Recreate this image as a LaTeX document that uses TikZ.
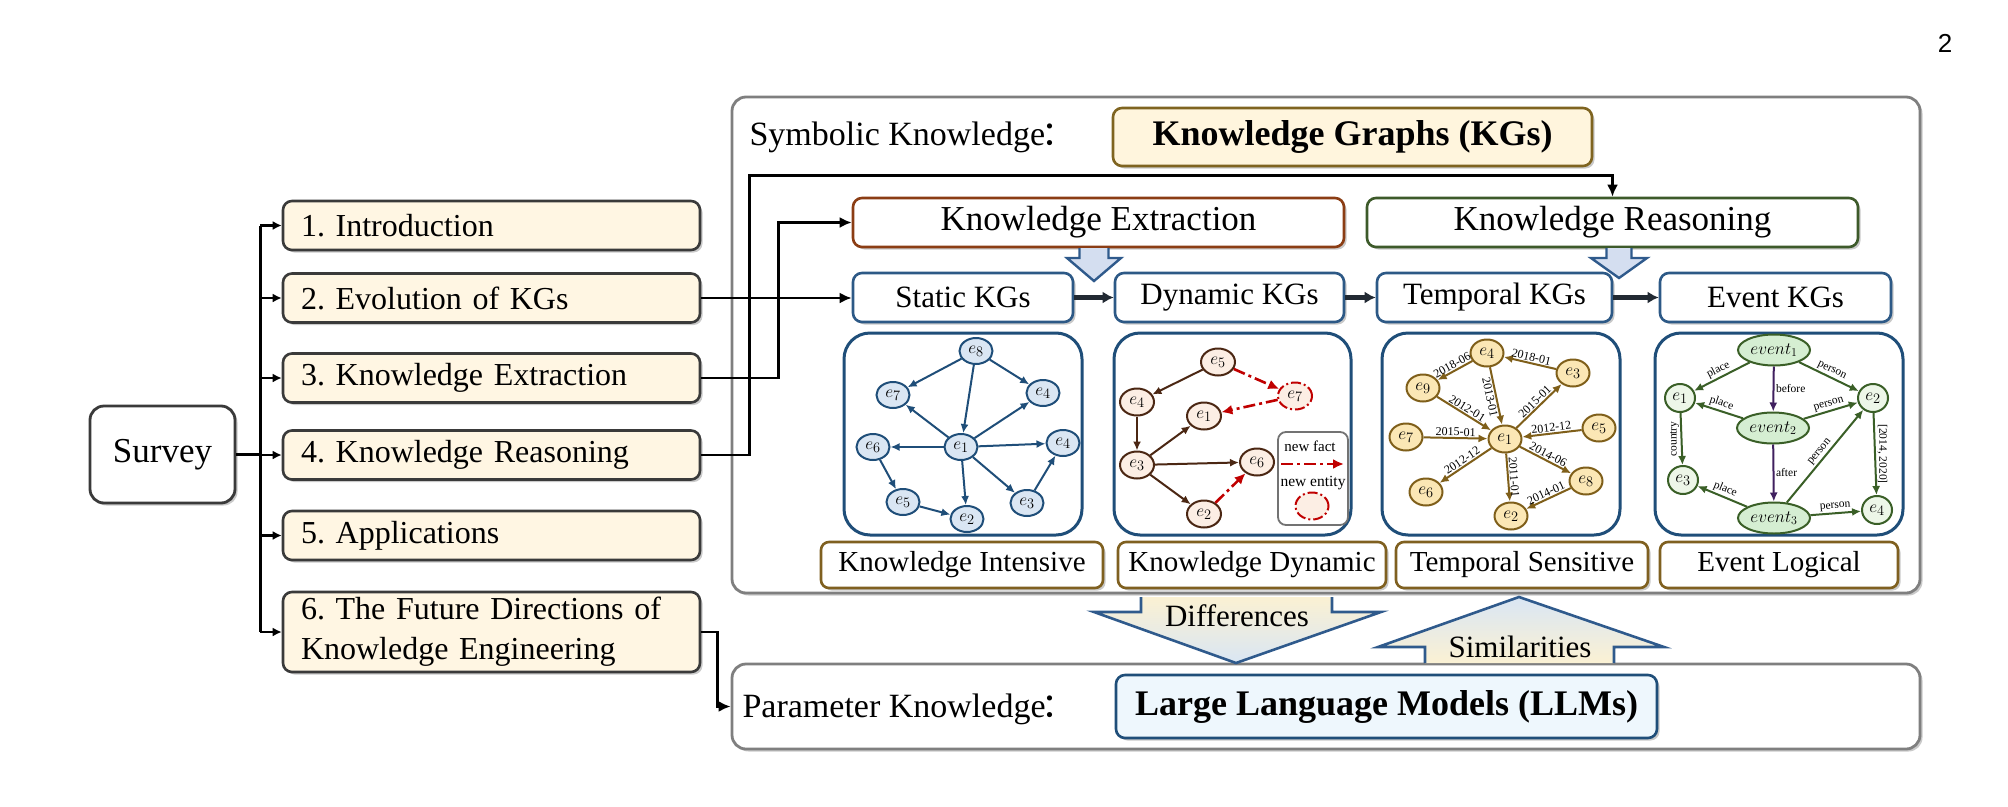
\documentclass[tikz,border=0pt]{standalone}
\usepackage{fontspec}
\setmainfont{Liberation Serif}
\setsansfont{Liberation Sans}
\newfontfamily\cjk{Noto Sans CJK SC}
\usetikzlibrary{arrows.meta}
\usetikzlibrary{shapes.geometric}
\usetikzlibrary{shadows}
\usepackage{xcolor}
\frenchspacing

\definecolor{seccream}{HTML}{FFF6E3}
\definecolor{secline}{HTML}{3A3A3A}
\definecolor{frameline}{HTML}{7F7F7F}
\definecolor{kgfill}{HTML}{FFF5DD}
\definecolor{kgline}{HTML}{7F6420}
\definecolor{keline}{HTML}{8B3D14}
\definecolor{krline}{HTML}{3D5A2A}
\definecolor{rowline}{HTML}{2D5986}
\definecolor{panline}{HTML}{1F4E79}
\definecolor{labline}{HTML}{7F6020}
\definecolor{llmfill}{HTML}{EEF7FD}
\definecolor{blockfill}{HTML}{D4DEF0}
\definecolor{blockline}{HTML}{2F5A8C}
\definecolor{gradcream}{HTML}{FBF1D3}
\definecolor{gradblue}{HTML}{D9E6F4}
\definecolor{rowdark}{HTML}{222A33}
\definecolor{sfill}{HTML}{DAE6F3}
\definecolor{sline}{HTML}{1F4E79}
\definecolor{dfill}{HTML}{FCEEE4}
\definecolor{dline}{HTML}{4B2713}
\definecolor{newred}{HTML}{C00000}
\definecolor{tfill}{HTML}{FBE7B5}
\definecolor{tline}{HTML}{7F5F1A}
\definecolor{efill}{HTML}{EDF6E8}
\definecolor{vfill}{HTML}{D5EED2}
\definecolor{eline}{HTML}{3A5F27}
\definecolor{purp}{HTML}{40205F}

\newcommand\fsz[2]{\fontsize{#1}{#2}\selectfont}
\newcommand\wcolon{\kern-.12em{\cjk ：}}

\tikzset{
  shd/.style={drop shadow={shadow xshift=2.5pt, shadow yshift=-2.5pt, opacity=.35, fill=black!60}},
  frame/.style={draw=frameline, line width=2.8pt, fill=white, rounded corners=14pt, shd},
  rootbox/.style={draw=secline, line width=2.8pt, fill=white, rounded corners=14pt,
    minimum width=145pt, minimum height=97pt, font=\fsz{35}{40}, shd},
  secbox/.style={draw=secline, fill=seccream, line width=2.6pt, rounded corners=9pt,
    text width=381pt, inner xsep=18pt, inner ysep=0pt, align=left,
    minimum height=49pt, font=\fsz{32}{40}, shd},
  kgbox/.style={draw=kgline, fill=kgfill, line width=2.6pt, rounded corners=9pt,
    minimum width=479pt, minimum height=58pt, font=\bfseries\fsz{36}{40}, shd},
  llmbox/.style={draw=panline, fill=llmfill, line width=2.6pt, rounded corners=9pt,
    minimum width=541pt, minimum height=63pt, font=\bfseries\fsz{36}{40}, shd},
  taskbox/.style={fill=white, line width=2.6pt, rounded corners=9pt,
    minimum width=491pt, minimum height=49pt, font=\fsz{35}{40}, shd},
  rowbox/.style={draw=rowline, fill=white, line width=2.6pt, rounded corners=9pt,
    minimum height=49pt, font=\fsz{31}{36}, shd},
  panel/.style={draw=panline, fill=white, line width=3pt, rounded corners=26pt,
    minimum height=202pt},
  labbox/.style={draw=labline, fill=white, line width=2.6pt, rounded corners=8pt,
    minimum height=46pt, font=\fsz{29}{34}, shd},
  conn/.style={line width=2.7pt, -{Latex[length=12pt,width=11pt]}},
  tconn/.style={line width=2.7pt, -{Latex[length=9pt,width=9pt]}},
  rowarr/.style={draw=rowdark, line width=4.5pt, -{Latex[length=11pt,width=12pt]}},
  blockarr/.style={draw=blockline, fill=blockfill, line width=2.4pt},
  bigarr/.style={draw=blockline, line width=2.6pt},
  gnode/.style={ellipse, inner sep=0pt, line width=2pt, font=\fsz{19}{19}},
  snode/.style={gnode, draw=sline, fill=sfill, minimum width=33pt, minimum height=26pt},
  dnode/.style={gnode, draw=dline, fill=dfill, minimum width=34pt, minimum height=27pt},
  newnode/.style={gnode, draw=newred, fill=dfill, minimum width=34pt, minimum height=27pt,
    dash pattern=on 10pt off 3pt on 2pt off 3pt},
  tnode/.style={gnode, draw=tline, fill=tfill, minimum width=33pt, minimum height=27pt},
  enode/.style={gnode, draw=eline, fill=efill, minimum width=30pt, minimum height=28pt},
  vnode/.style={gnode, draw=eline, fill=vfill, minimum width=72pt, minimum height=31pt, font=\fsz{17}{17}},
  sedge/.style={draw=sline, line width=2pt, -{Latex[length=9pt,width=8pt]}},
  dedge/.style={draw=dline, line width=2pt, -{Latex[length=9pt,width=8pt]}},
  newedge/.style={draw=newred, line width=2.6pt, -{Latex[length=11pt,width=10pt]},
    dash pattern=on 12pt off 4pt on 3pt off 4pt},
  tedge/.style={draw=tline, line width=2pt, -{Latex[length=9pt,width=8pt]}},
  eedge/.style={draw=eline, line width=2pt, -{Latex[length=9pt,width=8pt]}},
  pedge/.style={draw=purp, line width=2pt, -{Latex[length=9pt,width=8pt]}},
  tlab/.style={font=\fsz{12}{12}, inner sep=1pt, sloped},
  elab/.style={font=\fsz{11.5}{12}, inner sep=1.5pt},
}

\begin{document}
\begin{tikzpicture}[x=1pt,y=-1pt]
\useasboundingbox (0,0) rectangle (2008,806);

% frames
\node[frame, minimum width=1188pt, minimum height=496pt] (symb) at (1326,345) {};
\node[frame, minimum width=1188pt, minimum height=85pt] (para) at (1326,706.5) {};

% survey and sections
\node[rootbox] (survey) at (162.5,454.5) {Survey};
\node[secbox] (sec1) at (491.5,225.5) {1. Introduction};
\node[secbox] (sec2) at (491.5,298) {2. Evolution of KGs};
\node[secbox] (sec3) at (491.5,378) {3. Knowledge Extraction};
\node[secbox] (sec4) at (491.5,455) {4. Knowledge Reasoning};
\node[secbox] (sec5) at (491.5,535.5) {5. Applications};
\node[secbox, minimum height=80pt] (sec6) at (491.5,632) {6. The Future Directions of\\Knowledge Engineering};

\draw[line width=2.7pt] (survey.east) -- ++(24,0) coordinate (trunk);
\draw[line width=2.7pt] (trunk |- sec1.west) -- (trunk |- sec6.west);
\foreach \s in {sec1,sec2,sec3,sec4,sec5,sec6}
  \draw[tconn] (trunk |- \s.west) -- (\s.west);

% symbolic knowledge
\node[anchor=west, font=\fsz{34}{40}] (symbtxt) at (746,137) {Symbolic Knowledge\wcolon};
\node[kgbox] (kgs) at (1352.5,137) {Knowledge Graphs (KGs)};
\node[taskbox, draw=keline] (ke) at (1098.5,222.5) {Knowledge Extraction};
\node[taskbox, draw=krline] (kr) at (1612.5,222.5) {Knowledge Reasoning};

\node[rowbox, minimum width=220pt] (static) at (963,297.5) {Static KGs};
\node[rowbox, minimum width=229pt] (dynamic) at (1229.5,297.5) {Dynamic KGs};
\node[rowbox, minimum width=235pt] (temporal) at (1494.5,297.5) {Temporal KGs};
\node[rowbox, minimum width=231pt] (event) at (1775.5,297.5) {Event KGs};
\draw[rowarr] (static.east) -- (dynamic.west);
\draw[rowarr] (dynamic.east) -- (temporal.west);
\draw[rowarr] (temporal.east) -- (event.west);

% hollow arrows under the tasks
\filldraw[blockarr] (1079.5,248) -- (1079.5,258) -- (1067,258) -- (1094,281)
  -- (1121,258) -- (1108.5,258) -- (1108.5,248);
\filldraw[blockarr] (1606.5,248) -- (1606.5,258) -- (1591,258) -- (1619,278)
  -- (1647,258) -- (1631.5,258) -- (1631.5,248);

% connectors from the sections
\draw[conn] (sec2.east) -- (sec2.east -| static.west);
\draw[conn] (sec3.east) -- ++(77,0) |- (ke.west);
\draw[conn] (sec4.east) -- ++(48,0) |- ([yshift=21pt]kr.north) -- (kr.north);
\draw[conn] (sec6.east) -- ++(16,0) |- (para.west);

% panels
\node[panel, minimum width=238pt] (pan1) at (963,434) {};
\node[panel, minimum width=237pt] (pan2) at (1232.5,434) {};
\node[panel, minimum width=238pt] (pan3) at (1501,434) {};
\node[panel, minimum width=248pt] (pan4) at (1779,434) {};

% static graph
\node[snode] (s8) at (976,351) {$e_8$};
\node[snode] (s7) at (893,395) {$e_7$};
\node[snode] (s4a) at (1043,393) {$e_4$};
\node[snode] (s6) at (873,447) {$e_6$};
\node[snode] (s1) at (961,447) {$e_1$};
\node[snode] (s4b) at (1063,443) {$e_4$};
\node[snode] (s5) at (903,502) {$e_5$};
\node[snode] (s2) at (967,519) {$e_2$};
\node[snode] (s3) at (1027,503) {$e_3$};
\foreach \a/\b in {s8/s7,s8/s1,s8/s4a,s1/s7,s1/s4a,s1/s6,s1/s4b,s1/s2,s1/s3,s3/s4b,s6/s5,s5/s2}
  \draw[sedge] (\a) -- (\b);

% dynamic graph
\node[dnode] (d5) at (1218,362) {$e_5$};
\node[newnode] (d7) at (1295,396) {$e_7$};
\node[dnode] (d4) at (1137,402) {$e_4$};
\node[dnode] (d1) at (1204,416) {$e_1$};
\node[dnode] (d3) at (1137,465) {$e_3$};
\node[dnode] (d6) at (1257,462) {$e_6$};
\node[dnode] (d2) at (1204,514) {$e_2$};
\foreach \a/\b in {d5/d4,d4/d3,d3/d1,d3/d6,d3/d2}
  \draw[dedge] (\a) -- (\b);
\foreach \a/\b in {d5/d7,d7/d1,d2/d6}
  \draw[newedge] (\a) -- (\b);
\node[draw=black!55, line width=1.8pt, fill=white, rounded corners=8pt,
  minimum width=70pt, minimum height=93pt] (leg) at (1313,478.5) {};
\node[font=\fsz{15}{16}, inner sep=0pt] (legfact) at (1310,446) {new fact};
\coordinate (lf1) at (1281,464);
\coordinate (lf2) at (1344,464);
\draw[newedge] (lf1) -- (lf2);
\node[font=\fsz{15.5}{16}, inner sep=0pt] (legent) at (1313,483) {new entity};
\node[newnode, minimum width=33pt] (legnew) at (1312,506) {};

% temporal graph
\node[tnode] (t4) at (1487,353) {$e_4$};
\node[tnode] (t3) at (1573,373) {$e_3$};
\node[tnode] (t9) at (1423,388) {$e_9$};
\node[tnode] (t7) at (1406,437) {$e_7$};
\node[tnode] (t1) at (1505,439) {$e_1$};
\node[tnode] (t5) at (1599,428) {$e_5$};
\node[tnode] (t6) at (1426,492) {$e_6$};
\node[tnode] (t8) at (1586,481) {$e_8$};
\node[tnode] (t2) at (1511,516) {$e_2$};
\foreach \a/\b/\p/\l in {t4/t9/above/2018-06, t3/t4/above/2018-01, t4/t1/below/2013-01,
    t9/t1/above/2012-01, t1/t3/above/2015-01, t7/t1/above/2015-01, t5/t1/above/2012-12,
    t1/t6/above/2012-12, t1/t8/above/2014-06, t1/t2/above/2011-01, t8/t2/above/2014-01}
  \draw[tedge] (\a) -- node[tlab, \p] {\l} (\b);

% event graph
\node[vnode] (v1) at (1774,350) {$event_1$};
\node[enode] (f1) at (1680,398) {$e_1$};
\node[enode] (f2) at (1873,398) {$e_2$};
\node[vnode] (v2) at (1773,428) {$event_2$};
\node[enode] (f3) at (1683,480) {$e_3$};
\node[vnode] (v3) at (1774,518) {$event_3$};
\node[enode] (f4) at (1877,510) {$e_4$};
\draw[eedge] (v1) -- node[elab, sloped, above] {place} (f1);
\draw[eedge] (v1) -- node[elab, sloped, above] {person} (f2);
\draw[pedge] (v1) -- node[elab, right] {before} (v2);
\draw[eedge] (v2) -- node[elab, sloped, above] {place} (f1);
\draw[eedge] (v2) -- node[elab, sloped, above] {person} (f2);
\draw[pedge] (v2) -- node[elab, right] {after} (v3);
\draw[eedge] (f1) -- node[elab, anchor=south, rotate=90] {country} (f3);
\draw[eedge] (f2) -- node[elab, anchor=south, rotate=-90] {[2014, 2020]} (f4);
\draw[eedge] (v3) -- node[elab, sloped, above] {place} (f3);
\draw[eedge] (v3) -- node[elab, sloped, above] {person} (f2);
\draw[eedge] (v3) -- node[elab, sloped, above] {person} (f4);

% features
\node[labbox, minimum width=282pt] (lab1) at (962,565) {Knowledge Intensive};
\node[labbox, minimum width=268pt] (lab2) at (1252,565) {Knowledge Dynamic};
\node[labbox, minimum width=252pt] (lab3) at (1522,565) {Temporal Sensitive};
\node[labbox, minimum width=238pt] (lab4) at (1779,565) {Event Logical};

% differences and similarities
\path[bigarr, top color=gradcream, bottom color=gradblue] (1141,597) -- (1141,612) -- (1094,612)
  -- (1236,663) -- (1381,612) -- (1332,612) -- (1332,597);
\node[font=\fsz{31}{34}] (diff) at (1237,616) {Differences};
\path[bigarr, top color=gradblue, bottom color=gradcream] (1425,663) -- (1425,647) -- (1378,647)
  -- (1519,597) -- (1664,647) -- (1614,647) -- (1614,663);
\node[font=\fsz{31}{34}] (simi) at (1520,647) {Similarities};

% parameter knowledge
\node[anchor=west, font=\fsz{34}{40}] (paratxt) at (739,709) {Parameter Knowledge\wcolon};
\node[llmbox] (llm) at (1386.5,706.5) {Large Language Models (LLMs)};

\node[font=\sffamily\fsz{26}{30}] (pgno) at (1945,43) {2};
\end{tikzpicture}
\end{document}
